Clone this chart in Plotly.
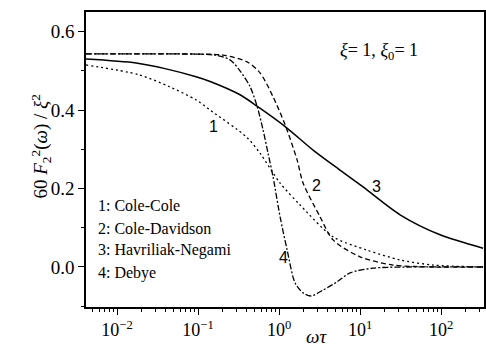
import plotly.graph_objects as go

# ---- data ----
cc_x = [0.00414, 0.0187, 0.0438, 0.0944, 0.141, 0.403, 0.582, 1.03, 1.82, 4.64, 12.2, 31.2, 79.6, 330]
cc_y = [0.515, 0.490, 0.460, 0.426, 0.400, 0.330, 0.290, 0.214, 0.158, 0.077, 0.043, 0.018, 0.005, 0.0]

cd_x = [0.00414, 0.0796, 0.204, 0.403, 0.582, 0.843, 1.19, 1.67, 1.98, 3.21, 4.64, 10.0, 25.5, 79.6, 330]
cd_y = [0.543, 0.543, 0.540, 0.523, 0.495, 0.434, 0.362, 0.273, 0.214, 0.128, 0.069, 0.026, 0.005, 0.0, 0.0]

hn_x = [0.00414, 0.0172, 0.0403, 0.0944, 0.141, 0.330, 0.535, 1.19, 2.63, 5.66, 10.9, 31.2, 97.3, 330]
hn_y = [0.530, 0.520, 0.505, 0.485, 0.473, 0.439, 0.410, 0.358, 0.298, 0.247, 0.204, 0.133, 0.082, 0.048]

db_x = [0.00414, 0.06, 0.162, 0.248, 0.330, 0.438, 0.535, 0.634, 0.731, 0.843, 1.03, 1.26, 1.58, 1.98,
        2.48, 3.49, 5.20, 7.54, 14.5, 38.0, 330]
db_y = [0.543, 0.543, 0.540, 0.528, 0.500, 0.460, 0.410, 0.350, 0.290, 0.230, 0.128, 0.043, -0.041, -0.066,
        -0.074, -0.059, -0.038, -0.015, -0.003, 0.0, 0.0]

x_tickvals = [0.01, 0.1, 1, 10, 100]
x_ticktext = ["10<sup>\u22122</sup>", "10<sup>\u22121</sup>", "10<sup>0</sup>", "10<sup>1</sup>", "10<sup>2</sup>"]
x_minor_vals = [m * d for d in [0.001, 0.01, 0.1, 1, 10, 100] for m in range(2, 10)]
y_tickvals = [0.0, 0.2, 0.4, 0.6]
y_ticktext = ["0.0", "0.2", "0.4", "0.6"]
y_minor_vals = [-0.1, 0.1, 0.3, 0.5]

legend_lines = ["1: Cole-Cole", "2: Cole-Davidson", "3: Havriliak-Negami", "4: Debye"]

SERIF = "Liberation Serif, Times New Roman, serif"
SANS = "Liberation Sans, Arial, sans-serif"

X_RANGE = [-2.383, 2.53]
Y_RANGE = [-0.102, 0.65]

fig = go.Figure()
fig.add_trace(go.Scatter(x=cc_x, y=cc_y, mode="lines", line=dict(color="black", width=1.3, dash="2px,3px", shape="spline", smoothing=0.8)))
fig.add_trace(go.Scatter(x=cd_x, y=cd_y, mode="lines", line=dict(color="black", width=1.3, dash="5px,3px", shape="spline", smoothing=0.8)))
fig.add_trace(go.Scatter(x=hn_x, y=hn_y, mode="lines", line=dict(color="black", width=1.5, shape="spline", smoothing=0.8)))
fig.add_trace(go.Scatter(x=db_x, y=db_y, mode="lines", line=dict(color="black", width=1.3, dash="6px,2px,2px,2px", shape="spline", smoothing=0.8)))
# empty trace to carry the minor-tick overlay axes
fig.add_trace(go.Scatter(x=[], y=[], xaxis="x2", yaxis="y2", hoverinfo="skip"))

L, R, T, B = 86, 2, 12, 55
W, H = 486, 362
pw, ph = W - L - R, H - T - B

def px2paper(px, py):
    return (px - L) / pw, (H - B - py) / ph

ann = []
# axis titles
x, y = px2paper(25, 147)
ann.append(dict(text="60 <i>F</i><sub>2</sub><sup>2</sup>(<i>\u03c9</i>) / <i>\u03be</i><sup>2</sup>",
                x=x, y=y, xref="paper", yref="paper", textangle=-90, showarrow=False,
                font=dict(family=SERIF, size=19, color="black")))
x, y = px2paper(316, 349)
ann.append(dict(text="<i>\u03c9\u03c4</i>", x=x, y=y, xref="paper", yref="paper", showarrow=False,
                font=dict(family=SERIF, size=19, color="black")))
x, y = px2paper(420, 38)
ann.append(dict(text="<i>\u03be</i>= 1, <i>\u03be</i><sub>0</sub>= 1", x=x, y=y, xref="paper", yref="paper",
                showarrow=False, font=dict(family=SERIF, size=18, color="black")))
for i, t in enumerate(legend_lines):
    x, y = px2paper(96, [205, 228, 250, 273][i])
    ann.append(dict(text=t, x=x, y=y, xref="paper", yref="paper", xanchor="left", yanchor="middle",
                    showarrow=False, font=dict(family=SERIF, size=16, color="black")))
for t, (px, py) in zip(["1", "2", "3", "4"], [(207, 127), (316, 185), (383, 186), (283, 268)]):
    x, y = px2paper(px, py)
    ann.append(dict(text=t, x=x, y=y, xref="paper", yref="paper", showarrow=False,
                    font=dict(family=SANS, size=16, color="black")))

fig.update_layout(
    width=W, height=H, margin=dict(l=L, r=R, t=T, b=B, autoexpand=False),
    paper_bgcolor="white", plot_bgcolor="white", showlegend=False,
    annotations=ann,
    xaxis2=dict(type="log", range=X_RANGE, overlaying="x", side="bottom", anchor="y2",
                tickmode="array", tickvals=x_minor_vals, showticklabels=False, showgrid=False,
                zeroline=False, showline=False, ticks="outside", ticklen=4, tickwidth=1.1,
                tickcolor="black", automargin=False),
    yaxis2=dict(range=Y_RANGE, overlaying="y", side="left", anchor="x2",
                tickmode="array", tickvals=y_minor_vals, showticklabels=False, showgrid=False,
                zeroline=False, showline=False, ticks="outside", ticklen=4, tickwidth=1.1,
                tickcolor="black", automargin=False),
)
fig.update_layout(
    xaxis=dict(type="log", range=X_RANGE, tickvals=x_tickvals, ticktext=x_ticktext, automargin=False,
               showgrid=False, zeroline=False, showline=True, linecolor="black", linewidth=1.5, mirror=True,
               ticks="outside", ticklen=6, tickwidth=1.3, tickcolor="black",
               tickfont=dict(family=SERIF, size=18, color="black")),
    yaxis=dict(range=Y_RANGE, tickvals=y_tickvals, ticktext=y_ticktext, automargin=False,
               showgrid=False, zeroline=False, showline=True, linecolor="black", linewidth=1.5, mirror=True,
               ticks="outside", ticklen=6, tickwidth=1.3, tickcolor="black",
               tickfont=dict(family=SERIF, size=19, color="black")),
)

fig.write_html("out.html", config={"displayModeBar": False},
               post_script="document.body.style.margin='0';document.body.style.overflow='hidden';")
